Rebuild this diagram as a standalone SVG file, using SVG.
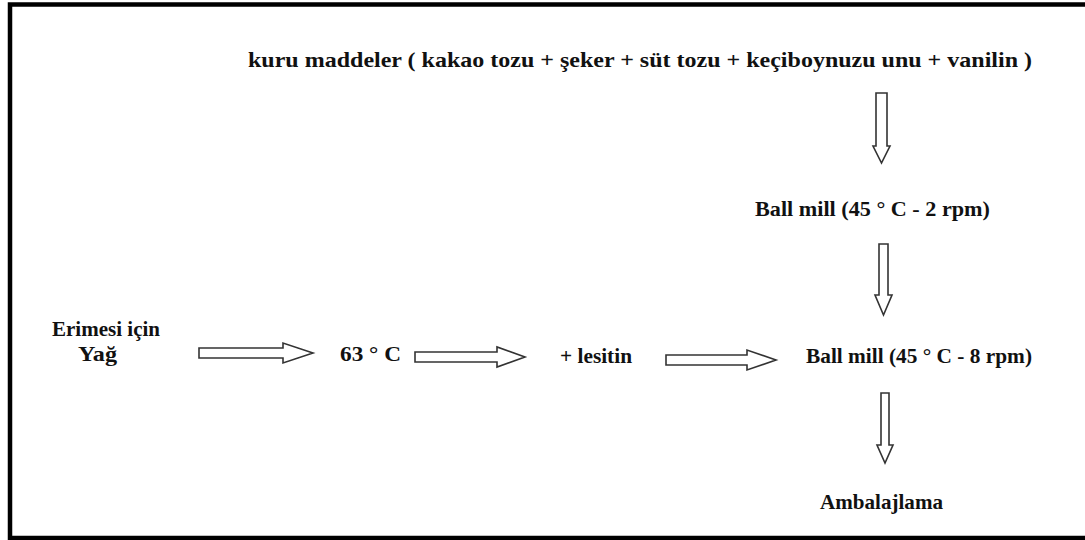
<svg xmlns="http://www.w3.org/2000/svg" width="1085" height="540" viewBox="0 0 1085 540">
<defs>
<style>
.t{font-family:'Liberation Serif','Times New Roman',serif;font-weight:bold;font-size:22px;fill:#111}
.a{fill:#fff;stroke:#333;stroke-width:1.6;stroke-linejoin:miter}
</style>
</defs>
<rect x="0" y="0" width="1085" height="540" fill="#fff"/>
<rect x="10" y="4.5" width="1085" height="533.5" fill="none" stroke="#000" stroke-width="4.5"/>
<g id="kuru"><text class="t" x="248" y="67" textLength="784" lengthAdjust="spacingAndGlyphs">kuru maddeler ( kakao tozu + şeker + süt tozu + keçiboynuzu unu + vanilin )</text></g>
<g id="ballmill2"><text class="t" x="755" y="216" textLength="235" lengthAdjust="spacingAndGlyphs">Ball mill (45 ° C - 2 rpm)</text></g>
<g id="yag"><text class="t" x="52" y="336" textLength="108" lengthAdjust="spacingAndGlyphs">Erimesi için</text><text class="t" x="78" y="361" textLength="39" lengthAdjust="spacingAndGlyphs">Yağ</text></g>
<g id="c63"><text class="t" x="340" y="361" textLength="61" lengthAdjust="spacingAndGlyphs">63 ° C</text></g>
<g id="lesitin"><text class="t" x="560" y="363" textLength="72" lengthAdjust="spacingAndGlyphs">+  lesitin</text></g>
<g id="ballmill8"><text class="t" x="806" y="363" textLength="226" lengthAdjust="spacingAndGlyphs">Ball mill (45 ° C - 8 rpm)</text></g>
<g id="ambalaj"><text class="t" x="820" y="509" textLength="123" lengthAdjust="spacingAndGlyphs">Ambalajlama</text></g>
<g id="connectors">
<polygon class="a" points="199,348 283,348 283,343 313,353 283,363 283,358 199,358"/>
<polygon class="a" points="415,352 497,352 497,347 525,357 497,367 497,362 415,362"/>
<polygon class="a" points="666,355 747,355 747,350 776,360 747,370 747,365 666,365"/>
<polygon class="a" points="876,93 887,93 887,146 890,146 881.5,163 873,146 876,146"/>
<polygon class="a" points="879,244 888,244 888,295 892,295 883.5,315 875,295 879,295"/>
<polygon class="a" points="881,393 889,393 889,445 893,445 885,463 877,445 881,445"/>
</g>
</svg>
